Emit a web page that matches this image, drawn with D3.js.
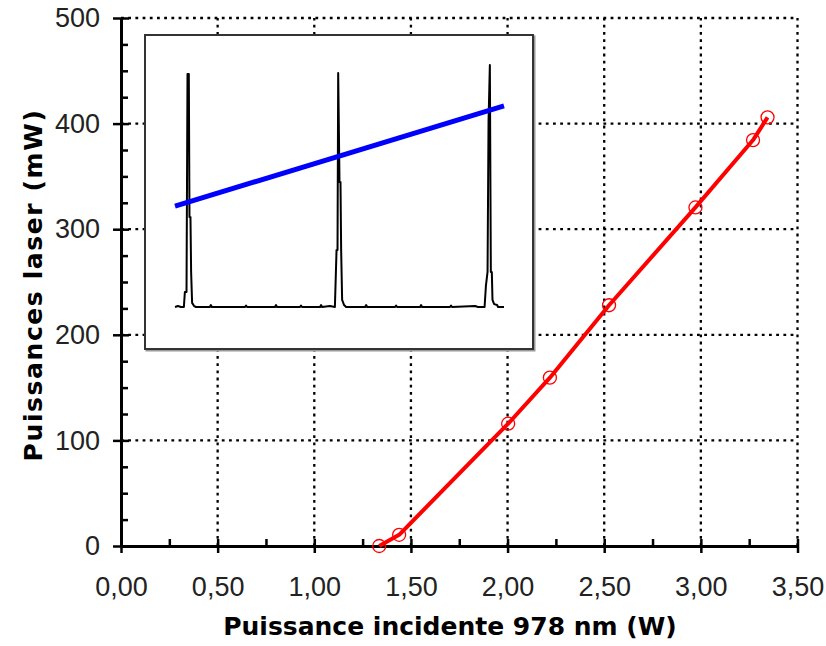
<!DOCTYPE html>
<html lang="fr">
<head>
<meta charset="utf-8">
<script src="https://cdn.jsdelivr.net/npm/d3@7"></script>
<style>
  body { margin: 0; background: #fff; }
  .tick-label { font-family: "Liberation Sans", Arial, sans-serif; font-size: 27px; fill: #222; }
  .axis-title { font-family: "DejaVu Sans", sans-serif; font-size: 25px; font-weight: bold; fill: #000; }
</style>
</head>
<body>
<div id="chart"></div>
<script>
// Données principales : puissance incidente (W) et puissance laser (mW)
const puissanceIncidente = [1.336, 1.439, 2.003, 2.219, 2.525, 2.972, 3.270, 3.345];
const puissanceLaser = [0, 10.6, 115.8, 159.4, 228, 320.6, 384.4, 405.9];

// Graduations
const xTicks = [0, 0.5, 1, 1.5, 2, 2.5, 3, 3.5];
const xTickLabels = ["0,00", "0,50", "1,00", "1,50", "2,00", "2,50", "3,00", "3,50"];
const xMinorTicks = [0.25, 0.75, 1.25, 1.75, 2.25, 2.75, 3.25];
const yTicks = [0, 100, 200, 300, 400, 500];
const yTickLabels = ["0", "100", "200", "300", "400", "500"];
const yMinorTicks = [25, 50, 75, 125, 150, 175, 225, 250, 275, 325, 350, 375, 425, 450, 475];

// Encart : spectre (unités arbitraires, 0-100)
const spectreX = [0, 0.9, 1.8, 2.7, 3.0, 3.5, 3.8, 4.2, 4.4, 4.7, 4.9, 5.2, 5.8, 6.4,
  10.6, 10.9, 11.2, 21.3, 21.6, 21.9, 30.4, 30.7, 31.0, 38.0, 38.3, 38.6, 44.1, 44.4, 44.7, 47.1,
  48.6, 49.1, 49.4, 49.6, 50.0, 50.3, 50.5, 50.8, 51.4, 52.0,
  57.8, 58.1, 58.4, 66.9, 67.2, 67.5, 74.5, 74.8, 75.1, 83.6, 83.9, 84.2, 91.2, 92.1,
  94.1, 94.5, 95.0, 95.3, 95.7, 96.0, 96.3, 96.5, 97.0, 97.9, 98.2, 100];
const spectreY = [0, 0.4, 0, 0, 6.2, 6.2, 96.3, 96.3, 37.2, 37.2, 14.5, 1.7, 0.4, 0,
  0, 0.8, 0, 0, 0.6, 0, 0, 0.8, 0, 0, 0.6, 0, 0, 0.8, 0, 0.4,
  0, 23.6, 23.6, 96.7, 51.7, 51.7, 23.6, 2.9, 0.8, 0,
  0, 0.8, 0, 0, 0.6, 0, 0, 0.8, 0, 0, 0.6, 0, 0.4, 0,
  0, 8.7, 14.5, 76.4, 100, 14.5, 14.5, 2.9, 1.2, 0.8, 0, 0];
// Encart : droite bleue
const droiteX = [0, 100];
const droiteY = [41.7, 83.1];

function drawChart() {
  const width = 826, height = 646;

  const svg = d3.select("#chart")
    .append("svg")
    .attr("width", width)
    .attr("height", height);

  svg.append("rect").attr("width", width).attr("height", height).attr("fill", "#fff");

  const x = d3.scaleLinear().domain([0, 3.5]).range([121, 797.5]);
  const y = d3.scaleLinear().domain([0, 500]).range([546, 18]);

  // Grille pointillée
  const grid = svg.append("g")
    .attr("stroke", "#000")
    .attr("stroke-width", 2.3)
    .attr("stroke-dasharray", "2.8,4.4");

  grid.selectAll(".vgrid")
    .data(xTicks.slice(1))
    .enter().append("line")
    .attr("x1", d => x(d)).attr("x2", d => x(d))
    .attr("y1", y(0)).attr("y2", y(500));

  grid.selectAll(".hgrid")
    .data(yTicks.slice(1))
    .enter().append("line")
    .attr("y1", d => y(d)).attr("y2", d => y(d))
    .attr("x1", x(0)).attr("x2", x(3.5));

  // Encart
  const box = { left: 145, top: 35, right: 533, bottom: 349 };
  svg.append("rect")
    .attr("x", box.left + 1.5).attr("y", box.top + 1.5)
    .attr("width", box.right - box.left).attr("height", box.bottom - box.top)
    .attr("fill", "none").attr("stroke", "#999").attr("stroke-width", 2);
  svg.append("rect")
    .attr("x", box.left).attr("y", box.top)
    .attr("width", box.right - box.left).attr("height", box.bottom - box.top)
    .attr("fill", "#fff").attr("stroke", "#333").attr("stroke-width", 2);

  const ix = d3.scaleLinear().domain([0, 100]).range([175, 504]);
  const iy = d3.scaleLinear().domain([0, 100]).range([307, 65]);

  const spectre = spectreX.map((d, i) => [d, spectreY[i]]);
  svg.append("path")
    .datum(spectre)
    .attr("fill", "none")
    .attr("stroke", "#000")
    .attr("stroke-width", 2)
    .attr("stroke-linejoin", "round")
    .attr("d", d3.line().x(d => ix(d[0])).y(d => iy(d[1])));

  const droite = droiteX.map((d, i) => [d, droiteY[i]]);
  svg.append("path")
    .datum(droite)
    .attr("fill", "none")
    .attr("stroke", "#0000ff")
    .attr("stroke-width", 5)
    .attr("d", d3.line().x(d => ix(d[0])).y(d => iy(d[1])));

  // Axe x
  const xAxisG = svg.append("g").attr("transform", `translate(0,${y(0)})`);
  xAxisG.append("g")
    .call(d3.axisBottom(x).tickValues(xTicks).tickSizeInner(7).tickSizeOuter(0).tickPadding(24)
      .tickFormat((d, i) => xTickLabels[i]));
  xAxisG.append("g")
    .call(d3.axisTop(x).tickValues(xTicks).tickSizeInner(7).tickSizeOuter(0).tickFormat(""));
  xAxisG.append("g")
    .call(d3.axisTop(x).tickValues(xMinorTicks).tickSizeInner(7).tickSizeOuter(0).tickFormat(""));

  // Axe y
  const yAxisG = svg.append("g").attr("transform", `translate(${x(0)},0)`);
  yAxisG.append("g")
    .call(d3.axisLeft(y).tickValues(yTicks).tickSizeInner(8).tickSizeOuter(0).tickPadding(13)
      .tickFormat((d, i) => yTickLabels[i]));
  yAxisG.append("g")
    .call(d3.axisRight(y).tickValues(yTicks).tickSizeInner(8).tickSizeOuter(0).tickFormat(""));
  yAxisG.append("g")
    .call(d3.axisRight(y).tickValues(yMinorTicks).tickSizeInner(7).tickSizeOuter(0).tickFormat(""));

  svg.selectAll(".domain").attr("stroke", "#000").attr("stroke-width", 3);
  svg.selectAll(".tick line").attr("stroke", "#000").attr("stroke-width", 2.5);
  svg.selectAll(".tick text")
    .attr("class", "tick-label")
    .attr("font-family", null).attr("font-size", null).attr("fill", null);

  // Courbe rouge
  const points = puissanceIncidente.map((d, i) => [d, puissanceLaser[i]]);
  svg.append("path")
    .datum(points)
    .attr("fill", "none")
    .attr("stroke", "#ff0000")
    .attr("stroke-width", 4)
    .attr("stroke-linejoin", "round")
    .attr("d", d3.line().x(d => x(d[0])).y(d => y(d[1])));

  svg.selectAll(".pt")
    .data(points)
    .enter().append("circle")
    .attr("cx", d => x(d[0]))
    .attr("cy", d => y(d[1]))
    .attr("r", 6.5)
    .attr("fill", "none")
    .attr("stroke", "#ff0000")
    .attr("stroke-width", 1.3);

  // Titres des axes
  svg.append("text")
    .attr("class", "axis-title")
    .attr("x", 450)
    .attr("y", 635)
    .attr("text-anchor", "middle")
    .text("Puissance incidente 978 nm (W)");

  svg.append("text")
    .attr("class", "axis-title")
    .attr("transform", "translate(42,285) rotate(-90)")
    .attr("text-anchor", "middle")
    .style("letter-spacing", "1.6px")
    .text("Puissances laser (mW)");
}

drawChart();
</script>
</body>
</html>
